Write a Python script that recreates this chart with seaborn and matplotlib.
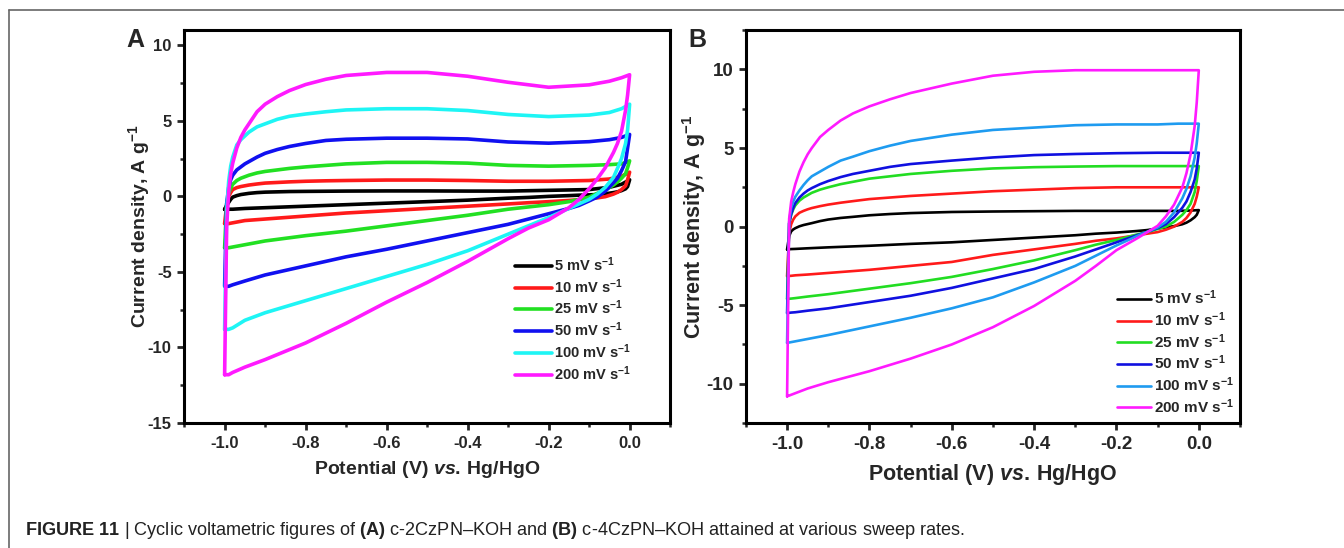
import matplotlib
matplotlib.use("Agg")
import matplotlib.pyplot as plt
import seaborn as sns
from matplotlib.lines import Line2D
from matplotlib.ticker import MultipleLocator

# potential grids: anodic (forward) and cathodic (return) sweeps
v_up = [-1.0, -0.995, -0.99, -0.985, -0.98, -0.97, -0.96, -0.95, -0.94, -0.92, -0.9, -0.87, -0.84,
        -0.8, -0.75, -0.7, -0.6, -0.5, -0.4, -0.3, -0.2, -0.1, -0.05, -0.02, 0.0]
v_dn = [0.0, -0.005, -0.01, -0.02, -0.03, -0.04, -0.06, -0.08, -0.1, -0.125, -0.15, -0.2,
        -0.25, -0.3, -0.4, -0.5, -0.6, -0.7, -0.8, -0.9, -0.95, -0.98, -0.99, -1.0]

rates = ["5 mV s$^{-1}$", "10 mV s$^{-1}$", "25 mV s$^{-1}$",
         "50 mV s$^{-1}$", "100 mV s$^{-1}$", "200 mV s$^{-1}$"]

# panel A : c-2CzPN-KOH
a_up_5 = [-0.85, -0.6, -0.4, -0.2, -0.05, 0.05, 0.12, 0.16, 0.2, 0.25, 0.28, 0.3, 0.32,
          0.33, 0.34, 0.35, 0.36, 0.36, 0.35, 0.35, 0.4, 0.45, 0.6, 0.8, 1.1]
a_dn_5 = [1.1, 0.65, 0.5, 0.38, 0.3, 0.25, 0.17, 0.12, 0.1, 0.08, 0.05, 0.0,
          -0.07, -0.12, -0.25, -0.35, -0.45, -0.55, -0.65, -0.75, -0.8, -0.85, -0.85, -0.85]
a_up_10 = [-1.8, -0.6, 0.0, 0.25, 0.45, 0.58, 0.65, 0.7, 0.75, 0.82, 0.88, 0.92, 0.96,
           1.0, 1.03, 1.05, 1.08, 1.08, 1.05, 1.0, 1.0, 1.05, 1.15, 1.33, 1.6]
a_dn_10 = [1.6, 1.1, 0.7, 0.45, 0.27, 0.15, -0.02, -0.1, -0.15, -0.22, -0.27, -0.35,
           -0.42, -0.5, -0.65, -0.8, -0.95, -1.1, -1.3, -1.5, -1.6, -1.75, -1.8, -1.8]
a_up_25 = [-3.4, -0.5, 0.2, 0.55, 0.8, 1.05, 1.2, 1.3, 1.4, 1.55, 1.65, 1.75, 1.85,
           1.95, 2.05, 2.15, 2.25, 2.25, 2.2, 2.05, 2.0, 2.05, 2.1, 2.15, 2.35]
a_dn_25 = [2.35, 1.9, 1.5, 1.2, 0.95, 0.75, 0.42, 0.2, -0.05, -0.2, -0.35, -0.55,
           -0.7, -0.85, -1.25, -1.6, -1.95, -2.3, -2.6, -2.95, -3.2, -3.35, -3.4, -3.4]
a_up_50 = [-5.9, -0.5, 0.6, 1.1, 1.4, 1.75, 1.95, 2.15, 2.3, 2.6, 2.85, 3.1, 3.3,
           3.5, 3.7, 3.78, 3.85, 3.85, 3.8, 3.6, 3.52, 3.62, 3.75, 3.9, 4.1]
a_dn_50 = [4.1, 3.2, 2.3, 1.7, 1.2, 0.9, 0.35, -0.05, -0.3, -0.6, -0.8, -1.15,
           -1.5, -1.85, -2.4, -2.95, -3.5, -4.0, -4.6, -5.2, -5.6, -5.85, -5.95, -5.95]
a_up_100 = [-8.8, -1.0, 1.0, 2.0, 2.6, 3.4, 3.75, 4.0, 4.25, 4.6, 4.8, 5.1, 5.3,
            5.45, 5.6, 5.72, 5.8, 5.8, 5.68, 5.42, 5.28, 5.38, 5.55, 5.8, 6.1]
a_dn_100 = [6.1, 4.4, 3.5, 2.5, 1.85, 1.25, 0.6, 0.15, -0.2, -0.5, -0.8, -1.4,
            -1.95, -2.5, -3.6, -4.5, -5.3, -6.1, -6.9, -7.7, -8.2, -8.7, -8.8, -8.8]
a_up_200 = [-11.8, -2.0, 0.3, 1.5, 2.2, 3.2, 3.9, 4.4, 4.8, 5.6, 6.1, 6.6, 7.0,
            7.4, 7.75, 8.0, 8.2, 8.2, 7.95, 7.55, 7.22, 7.38, 7.62, 7.85, 8.05]
a_dn_200 = [8.05, 6.7, 5.7, 4.3, 3.5, 2.9, 1.9, 1.15, 0.5, -0.2, -0.75, -1.55,
            -2.1, -2.8, -4.3, -5.7, -7.0, -8.4, -9.7, -10.8, -11.3, -11.65, -11.8, -11.8]

# panel B : c-4CzPN-KOH
b_up_5 = [-1.45, -0.6, -0.3, -0.18, -0.1, 0.02, 0.1, 0.16, 0.22, 0.35, 0.45, 0.55, 0.62,
          0.72, 0.8, 0.86, 0.93, 0.96, 0.98, 1.0, 1.0, 1.0, 1.0, 1.02, 1.05]
b_dn_5 = [1.05, 0.75, 0.6, 0.4, 0.25, 0.15, 0.03, -0.05, -0.12, -0.22, -0.28, -0.38,
          -0.45, -0.55, -0.7, -0.85, -1.0, -1.1, -1.22, -1.32, -1.38, -1.42, -1.43, -1.45]
b_up_10 = [-3.15, -0.4, 0.15, 0.45, 0.65, 0.88, 1.0, 1.1, 1.18, 1.3, 1.4, 1.52, 1.62,
           1.75, 1.85, 1.95, 2.1, 2.25, 2.35, 2.45, 2.5, 2.5, 2.5, 2.5, 2.5]
b_dn_10 = [2.5, 1.9, 1.45, 0.9, 0.55, 0.3, 0.0, -0.2, -0.35, -0.45, -0.55, -0.75,
           -0.9, -1.1, -1.45, -1.8, -2.25, -2.5, -2.75, -2.95, -3.05, -3.1, -3.13, -3.15]
b_up_25 = [-4.6, 0.2, 0.75, 1.1, 1.35, 1.65, 1.85, 2.0, 2.15, 2.35, 2.5, 2.7, 2.85,
           3.05, 3.2, 3.35, 3.55, 3.7, 3.78, 3.82, 3.85, 3.85, 3.85, 3.85, 3.85]
b_dn_25 = [3.85, 2.9, 2.2, 1.45, 1.05, 0.75, 0.3, 0.0, -0.15, -0.35, -0.5, -0.85,
           -1.15, -1.5, -2.15, -2.7, -3.2, -3.6, -3.95, -4.3, -4.45, -4.55, -4.58, -4.6]
b_up_50 = [-5.5, 0.2, 0.8, 1.2, 1.5, 1.85, 2.1, 2.3, 2.45, 2.7, 2.9, 3.15, 3.35,
           3.55, 3.8, 3.98, 4.2, 4.4, 4.55, 4.62, 4.67, 4.7, 4.7, 4.7, 4.7]
b_dn_50 = [4.7, 3.7, 3.0, 2.2, 1.6, 1.2, 0.6, 0.15, -0.1, -0.33, -0.55, -1.0,
           -1.45, -1.9, -2.7, -3.3, -3.9, -4.4, -4.8, -5.2, -5.35, -5.45, -5.47, -5.5]
b_up_100 = [-7.4, 0.3, 1.2, 1.6, 1.9, 2.3, 2.65, 2.95, 3.2, 3.5, 3.8, 4.2, 4.45,
            4.8, 5.15, 5.45, 5.85, 6.15, 6.3, 6.45, 6.5, 6.5, 6.55, 6.55, 6.55]
b_dn_100 = [6.55, 5.3, 4.4, 3.2, 2.4, 1.8, 0.9, 0.3, -0.05, -0.33, -0.6, -1.2,
            -1.85, -2.5, -3.55, -4.5, -5.2, -5.8, -6.35, -6.9, -7.15, -7.3, -7.35, -7.4]
b_up_200 = [-10.8, 0.5, 1.6, 2.2, 2.7, 3.5, 4.1, 4.6, 5.0, 5.7, 6.15, 6.75, 7.2,
            7.65, 8.1, 8.5, 9.1, 9.6, 9.85, 9.95, 9.95, 9.95, 9.95, 9.95, 9.95]
b_dn_200 = [9.95, 7.9, 6.4, 4.6, 3.4, 2.5, 1.4, 0.65, 0.05, -0.35, -0.75, -1.5,
            -2.5, -3.45, -5.05, -6.4, -7.5, -8.4, -9.2, -9.9, -10.3, -10.6, -10.7, -10.8]

colors_a = ["#000000", "#ff1a1a", "#22e022", "#1010f0", "#1ef5f5", "#ff1aff"]
colors_b = ["#000000", "#ff1a1a", "#22dd22", "#1010e0", "#1e9bf0", "#ff1aff"]

sns.set_style("ticks")
plt.rcParams["font.family"] = ["Liberation Sans", "DejaVu Sans"]
plt.rcParams["font.weight"] = "bold"
plt.rcParams["axes.unicode_minus"] = False
plt.rcParams["mathtext.fontset"] = "custom"
plt.rcParams["mathtext.bf"] = "Liberation Sans:bold"
plt.rcParams["mathtext.rm"] = "Liberation Sans"
plt.rcParams["mathtext.it"] = "Liberation Sans:italic:bold"
plt.rcParams["mathtext.default"] = "bf"

fig = plt.figure(figsize=(13.44, 5.48), dpi=100)
ax_a = fig.add_axes([0.137, 0.228, 0.3616, 0.717])
ax_b = fig.add_axes([0.555, 0.228, 0.3676, 0.717])

curves_a = [(a_up_5, a_dn_5), (a_up_10, a_dn_10), (a_up_25, a_dn_25),
            (a_up_50, a_dn_50), (a_up_100, a_dn_100), (a_up_200, a_dn_200)]
curves_b = [(b_up_5, b_dn_5), (b_up_10, b_dn_10), (b_up_25, b_dn_25),
            (b_up_50, b_dn_50), (b_up_100, b_dn_100), (b_up_200, b_dn_200)]

for (up, dn), c, lab in zip(curves_a, colors_a, rates):
    sns.lineplot(x=v_up + v_dn, y=up + dn, sort=False, estimator=None,
                 color=c, lw=2.6, label=lab, ax=ax_a)
for (up, dn), c, lab in zip(curves_b, colors_b, rates):
    sns.lineplot(x=v_up + v_dn, y=up + dn, sort=False, estimator=None,
                 color=c, lw=1.9, label=lab, ax=ax_b)

ax_a.set_xlim(-1.1, 0.1)
ax_a.set_ylim(-15, 11)
ax_b.set_xlim(-1.1, 0.1)
ax_b.set_ylim(-12.5, 12.5)

for ax, fs, lfs, ypad, xpad in [(ax_a, 12, 14, -3, 6), (ax_b, 13.5, 15.5, -1, 7)]:
    ax.xaxis.set_major_locator(MultipleLocator(0.2))
    ax.xaxis.set_minor_locator(MultipleLocator(0.1))
    ax.yaxis.set_major_locator(MultipleLocator(5))
    ax.yaxis.set_minor_locator(MultipleLocator(2.5))
    for s in ax.spines.values():
        s.set_linewidth(2.2)
        s.set_color("black")
    ax.tick_params(which="major", direction="out", length=5, width=2,
                   labelsize=fs, pad=4)
    ax.tick_params(which="minor", direction="out", length=3, width=1.8)
    ax.set_xlabel("Potential (V) $\\mathit{vs.}\\,$Hg/HgO", fontsize=lfs,
                  fontweight="bold", labelpad=xpad)
    ax.set_ylabel("Current density, A g$^{-1}$", fontsize=lfs,
                  fontweight="bold", labelpad=ypad)
    for t in ax.get_xticklabels() + ax.get_yticklabels():
        t.set_fontweight("bold")

ax_a.legend(loc="upper left", bbox_to_anchor=(0.681, 0.427), frameon=False,
            fontsize=10.5, handlelength=2.5, handletextpad=0.15,
            labelspacing=0.22, borderpad=0, borderaxespad=0)
ax_b.legend(loc="upper left", bbox_to_anchor=(0.751, 0.342), frameon=False,
            fontsize=11, handlelength=2.2, handletextpad=0.25,
            labelspacing=0.2, borderpad=0, borderaxespad=0)

# panel letters
fig.text(135 / 1344, 1 - 40 / 548, "A", fontsize=18, fontweight="bold",
         ha="center", va="center")
fig.text(697 / 1344, 1 - 40 / 548, "B", fontsize=18, fontweight="bold",
         ha="center", va="center")

# caption
fig.text(25 / 1344, 1 - 535 / 548,
         "$\\mathbf{FIGURE\\ 11}$ | Cyclic voltametric figures of $\\mathbf{(A)}$ "
         "c-2CzPN\u2013KOH and $\\mathbf{(B)}$ c-4CzPN\u2013KOH attained at various sweep rates.",
         fontsize=13.1, fontweight="normal", ha="left", va="baseline", color="#222222")

# page frame (left and top edges)
fig.add_artist(Line2D([9 / 1344, 9 / 1344], [0, 1 - 10 / 548],
                      transform=fig.transFigure, color="#666666", lw=1.2))
fig.add_artist(Line2D([9 / 1344, 1], [1 - 10 / 548, 1 - 10 / 548],
                      transform=fig.transFigure, color="#666666", lw=1.2))

fig.savefig("out.png", dpi=100)
